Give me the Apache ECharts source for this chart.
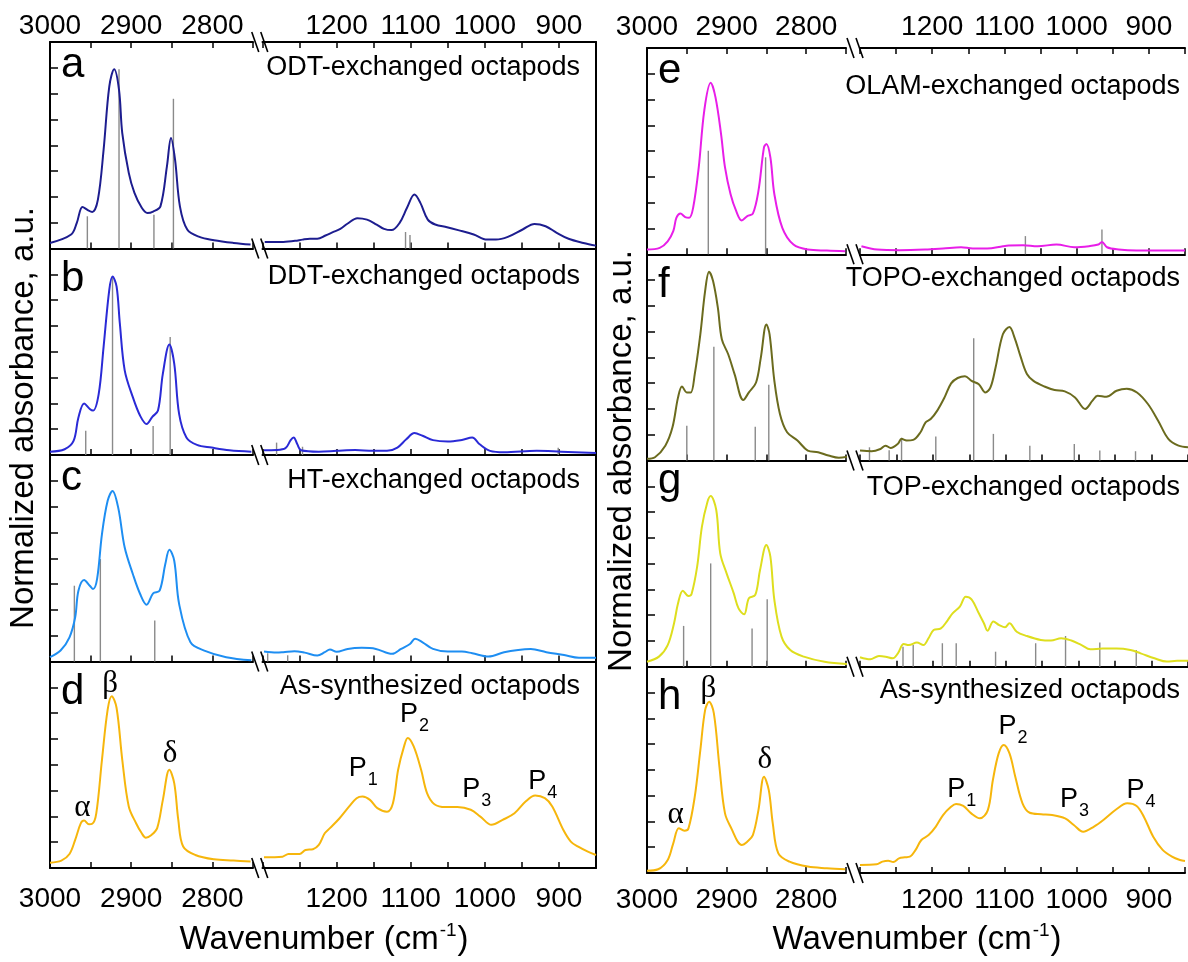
<!DOCTYPE html>
<html>
<head>
<meta charset="utf-8">
<title>FTIR spectra of ligand-exchanged octapods</title>
<script src="https://cdn.jsdelivr.net/npm/echarts@6/dist/echarts.min.js"></script>
<style>
  html, body { margin: 0; padding: 0; background: #fff; }
  #chart { width: 1188px; height: 962px; }
</style>
</head>
<body>
<div id="chart"></div>
<script>
// spectra: [wavenumber (cm-1), normalized absorbance]
// "High" = C-H stretching window (3000-2750), "Low" = fingerprint window (1300-850)

// a - ODT
var odtHigh = [[3000,0.027],[2974,0.068],[2967,0.124],[2960,0.201],[2953,0.185],[2948,0.177],[2941,0.237],[2934,0.478],[2927,0.784],[2921,0.868],[2915,0.768],[2911,0.559],[2903,0.366],[2896,0.269],[2887,0.197],[2880,0.172],[2873,0.179],[2864,0.204],[2856,0.398],[2851,0.535],[2846,0.43],[2840,0.204],[2831,0.092],[2816,0.056],[2798,0.04],[2774,0.027],[2753,0.019]];
var odtLow = [[1297,0.031],[1272,0.032],[1256,0.037],[1246,0.043],[1236,0.047],[1226,0.047],[1215,0.063],[1205,0.079],[1195,0.095],[1185,0.121],[1172,0.147],[1159,0.14],[1146,0.116],[1136,0.095],[1126,0.089],[1115,0.124],[1105,0.197],[1095,0.261],[1087,0.221],[1077,0.14],[1067,0.116],[1051,0.103],[1036,0.089],[1015,0.068],[997,0.043],[985,0.043],[969,0.056],[949,0.092],[933,0.119],[918,0.108],[903,0.076],[887,0.047],[867,0.027],[850,0.014]];
var odtSticks = [[2954,0.156],[2915,0.868],[2872,0.164],[2848,0.725],[1107,0.08],[1101,0.065]];

// b - DDT
var ddtHigh = [[3000,0.016],[2982,0.028],[2971,0.068],[2965,0.182],[2958,0.25],[2951,0.223],[2947,0.215],[2940,0.296],[2934,0.524],[2927,0.8],[2923,0.865],[2918,0.816],[2914,0.637],[2908,0.41],[2898,0.28],[2889,0.19],[2881,0.15],[2874,0.185],[2867,0.215],[2861,0.394],[2853,0.535],[2847,0.442],[2841,0.199],[2832,0.085],[2819,0.049],[2801,0.036],[2779,0.023],[2752,0.016]];
var ddtLow = [[1298,0.023],[1281,0.024],[1269,0.033],[1262,0.072],[1258,0.085],[1253,0.052],[1248,0.023],[1224,0.016],[1200,0.02],[1175,0.024],[1151,0.02],[1132,0.02],[1118,0.036],[1106,0.076],[1095,0.106],[1084,0.093],[1070,0.072],[1050,0.065],[1031,0.073],[1017,0.085],[1007,0.052],[993,0.02],[974,0.013],[930,0.02],[897,0.016],[850,0.01]];
var ddtSticks = [[2956,0.117],[2923,0.865],[2873,0.141],[2852,0.572],[1281,0.06],[1246,0.04],[901,0.035]];

// c - HT
var htHigh = [[3000,0.021],[2987,0.053],[2976,0.117],[2969,0.214],[2965,0.343],[2958,0.395],[2951,0.367],[2947,0.351],[2942,0.4],[2936,0.617],[2929,0.778],[2923,0.826],[2916,0.745],[2908,0.552],[2898,0.424],[2889,0.327],[2881,0.275],[2873,0.33],[2865,0.343],[2858,0.472],[2853,0.541],[2847,0.488],[2841,0.279],[2827,0.093],[2810,0.053],[2783,0.021],[2752,0.006]];
var htLow = [[1298,0.048],[1281,0.043],[1272,0.045],[1257,0.05],[1243,0.043],[1226,0.029],[1216,0.045],[1209,0.058],[1200,0.047],[1185,0.061],[1166,0.066],[1147,0.061],[1125,0.037],[1113,0.061],[1101,0.085],[1094,0.11],[1084,0.093],[1070,0.061],[1050,0.048],[1031,0.048],[1017,0.04],[995,0.024],[974,0.045],[955,0.056],[938,0.06],[917,0.045],[893,0.031],[873,0.018],[850,0.018]];
var htSticks = [[2970,0.367],[2938,0.496],[2871,0.198],[1293,0.04],[1266,0.03]];

// d - as-synthesized (left column)
var asLeftHigh = [[3000,0.026],[2986,0.036],[2976,0.068],[2969,0.136],[2962,0.217],[2958,0.23],[2952,0.212],[2948,0.214],[2943,0.265],[2936,0.524],[2929,0.767],[2924,0.832],[2918,0.775],[2911,0.524],[2903,0.298],[2894,0.217],[2887,0.168],[2882,0.147],[2875,0.16],[2868,0.193],[2861,0.33],[2853,0.476],[2847,0.411],[2842,0.233],[2836,0.104],[2821,0.063],[2798,0.042],[2774,0.036],[2753,0.031]];
var asLeftLow = [[1298,0.052],[1273,0.055],[1265,0.068],[1257,0.068],[1250,0.068],[1242,0.087],[1232,0.091],[1224,0.112],[1216,0.168],[1209,0.193],[1196,0.241],[1183,0.298],[1173,0.338],[1165,0.346],[1155,0.33],[1145,0.29],[1132,0.273],[1124,0.314],[1117,0.476],[1109,0.589],[1104,0.63],[1096,0.589],[1086,0.476],[1078,0.363],[1068,0.309],[1053,0.295],[1037,0.295],[1019,0.282],[1006,0.249],[991,0.209],[976,0.233],[960,0.265],[945,0.322],[932,0.351],[919,0.338],[909,0.298],[894,0.184],[884,0.128],[874,0.103],[861,0.079],[850,0.063]];
var asLeftMarks = [['α',2960,0.29],['β',2926,0.891],['δ',2852,0.552],['P1',1164,0.45],['P2',1095,0.707],['P3',1011,0.344],['P4',922,0.387]];

// e - OLAM
var olamHigh = [[3000,0.023],[2984,0.031],[2974,0.063],[2967,0.112],[2963,0.177],[2958,0.197],[2952,0.18],[2947,0.177],[2942,0.226],[2935,0.421],[2928,0.698],[2920,0.831],[2914,0.762],[2907,0.584],[2902,0.421],[2895,0.291],[2888,0.21],[2881,0.164],[2874,0.185],[2867,0.197],[2860,0.307],[2853,0.519],[2850,0.535],[2845,0.47],[2840,0.291],[2830,0.128],[2816,0.047],[2798,0.023],[2774,0.018],[2751,0.015]];
var olamLow = [[1298,0.039],[1276,0.023],[1245,0.02],[1210,0.023],[1185,0.028],[1160,0.034],[1144,0.028],[1124,0.028],[1102,0.039],[1094,0.042],[1074,0.044],[1054,0.039],[1028,0.047],[1003,0.034],[983,0.039],[970,0.047],[965,0.06],[958,0.034],[942,0.023],[917,0.018],[892,0.018],[850,0.018]];
var olamSticks = [[2923,0.502],[2851,0.47],[1071,0.088],[965,0.12]];

// f - TOPO
var topoHigh = [[3000,0.008],[2990,0.016],[2977,0.072],[2968,0.161],[2961,0.306],[2956,0.359],[2950,0.33],[2945,0.33],[2940,0.419],[2933,0.612],[2927,0.821],[2922,0.915],[2917,0.87],[2911,0.741],[2906,0.588],[2898,0.515],[2890,0.419],[2879,0.293],[2872,0.33],[2863,0.378],[2857,0.499],[2850,0.66],[2846,0.612],[2840,0.386],[2833,0.226],[2824,0.137],[2811,0.097],[2798,0.048],[2785,0.04],[2772,0.024],[2759,0.013],[2748,0.019]];
var topoLow = [[1300,0.048],[1284,0.045],[1272,0.056],[1265,0.072],[1258,0.061],[1248,0.081],[1243,0.105],[1236,0.097],[1227,0.1],[1217,0.137],[1210,0.185],[1203,0.201],[1194,0.242],[1184,0.306],[1175,0.374],[1166,0.4],[1156,0.409],[1147,0.386],[1137,0.37],[1128,0.33],[1121,0.354],[1114,0.451],[1104,0.612],[1095,0.647],[1088,0.596],[1080,0.507],[1071,0.419],[1062,0.386],[1047,0.359],[1033,0.342],[1019,0.335],[1005,0.306],[991,0.25],[981,0.29],[974,0.314],[962,0.309],[948,0.338],[934,0.348],[920,0.33],[905,0.274],[891,0.193],[877,0.105],[863,0.072],[850,0.064]];
var topoSticks = [[2950,0.169],[2916,0.551],[2864,0.164],[2847,0.367],[1287,0.064],[1260,0.05],[1243,0.11],[1196,0.116],[1144,0.593],[1117,0.129],[1067,0.072],[1006,0.08],[971,0.048],[922,0.045]];

// g - TOP
var topHigh = [[3000,0.024],[2985,0.049],[2974,0.105],[2966,0.211],[2961,0.308],[2955,0.369],[2948,0.343],[2944,0.353],[2937,0.485],[2931,0.679],[2924,0.8],[2920,0.828],[2913,0.76],[2908,0.55],[2900,0.453],[2891,0.356],[2885,0.283],[2878,0.254],[2872,0.332],[2864,0.348],[2858,0.469],[2850,0.59],[2845,0.534],[2840,0.324],[2831,0.146],[2820,0.081],[2803,0.049],[2777,0.024],[2748,0.013]];
var topLow = [[1300,0.046],[1286,0.036],[1274,0.052],[1265,0.049],[1255,0.041],[1248,0.065],[1240,0.11],[1233,0.105],[1222,0.117],[1213,0.105],[1206,0.138],[1199,0.178],[1189,0.186],[1180,0.224],[1173,0.259],[1163,0.291],[1155,0.34],[1147,0.327],[1137,0.259],[1130,0.211],[1125,0.175],[1117,0.219],[1109,0.202],[1101,0.191],[1095,0.211],[1085,0.17],[1071,0.149],[1052,0.13],[1038,0.127],[1024,0.138],[1010,0.127],[996,0.105],[984,0.085],[967,0.088],[948,0.088],[929,0.081],[915,0.065],[896,0.041],[879,0.025],[865,0.029],[850,0.029]];
var topSticks = [[2954,0.198],[2920,0.501],[2868,0.186],[2849,0.327],[1241,0.097],[1227,0.105],[1187,0.114],[1168,0.114],[1114,0.073],[1059,0.114],[1018,0.149],[971,0.117],[921,0.081]];

// h - as-synthesized (right column)
var asRightHigh = [[3000,0.011],[2986,0.018],[2974,0.063],[2967,0.144],[2960,0.217],[2953,0.205],[2948,0.215],[2940,0.37],[2933,0.596],[2927,0.79],[2922,0.83],[2916,0.774],[2909,0.515],[2902,0.289],[2893,0.208],[2886,0.152],[2881,0.136],[2874,0.152],[2867,0.184],[2860,0.305],[2853,0.467],[2847,0.402],[2842,0.241],[2835,0.095],[2821,0.055],[2798,0.031],[2774,0.023],[2751,0.018]];
var asRightLow = [[1300,0.039],[1277,0.042],[1269,0.055],[1261,0.06],[1254,0.053],[1246,0.071],[1238,0.076],[1231,0.079],[1223,0.112],[1215,0.16],[1205,0.184],[1195,0.225],[1185,0.281],[1174,0.321],[1167,0.335],[1157,0.325],[1146,0.289],[1134,0.265],[1123,0.305],[1116,0.451],[1108,0.58],[1101,0.621],[1093,0.58],[1085,0.467],[1075,0.338],[1065,0.292],[1049,0.285],[1034,0.281],[1016,0.265],[1004,0.233],[991,0.2],[976,0.225],[963,0.257],[945,0.309],[930,0.338],[917,0.325],[907,0.273],[894,0.176],[881,0.112],[868,0.079],[857,0.063],[850,0.058]];
var asRightMarks = [['α',2964,0.281],['β',2923,0.892],['δ',2852,0.548],['P1',1159,0.37],['P2',1088,0.674],['P3',1003,0.321],['P4',911,0.368]];

var highRange = [2750, 3000];
var lowRange = [850, 1300];

(function () {

    var FONT = 'Liberation Sans';

    // two columns of four stacked panels, each panel split by the axis break
    var cols = [
        { top: 42, rowH: 206.5, hiLeft: 50, hiWidth: 203, loLeft: 262.5, loWidth: 333.5, rightBorder: true,
          topMargin: 2, bottomMargin: 17, titleRight: 580, yTitleX: 24, yTitleY: 418, xTitleX: 324 },
        { top: 48, rowH: 206.25, hiLeft: 647, hiWidth: 199, loLeft: 860, loWidth: 328, rightBorder: false,
          topMargin: 7, bottomMargin: 13, titleRight: 1180, yTitleX: 622, yTitleY: 461, xTitleX: 917 }
    ];

    var panels = [
        { col: 0, row: 0, letter: 'a', name: 'ODT-exchanged octapods', color: '#1d1d8f', high: odtHigh, low: odtLow, sticks: odtSticks, letterDy: 23, nameDy: 26 },
        { col: 0, row: 1, letter: 'b', name: 'DDT-exchanged octapods', color: '#2a2ad6', high: ddtHigh, low: ddtLow, sticks: ddtSticks, letterDy: 31, nameDy: 28 },
        { col: 0, row: 2, letter: 'c', name: 'HT-exchanged octapods', color: '#1e8ef2', high: htHigh, low: htLow, sticks: htSticks, letterDy: 23, nameDy: 26 },
        { col: 0, row: 3, letter: 'd', name: 'As-synthesized octapods', color: '#f6b60c', high: asLeftHigh, low: asLeftLow, sticks: [], marks: asLeftMarks, letterDy: 31, nameDy: 25 },
        { col: 1, row: 0, letter: 'e', name: 'OLAM-exchanged octapods', color: '#e81ee8', high: olamHigh, low: olamLow, sticks: olamSticks, letterDy: 23, nameDy: 39 },
        { col: 1, row: 1, letter: 'f', name: 'TOPO-exchanged octapods', color: '#6b6b1e', high: topoHigh, low: topoLow, sticks: topoSticks, letterDy: 31, nameDy: 24 },
        { col: 1, row: 2, letter: 'g', name: 'TOP-exchanged octapods', color: '#dede1e', high: topHigh, low: topLow, sticks: topSticks, letterDy: 21, nameDy: 27 },
        { col: 1, row: 3, letter: 'h', name: 'As-synthesized octapods', color: '#f6b60c', high: asRightHigh, low: asRightLow, sticks: [], marks: asRightMarks, letterDy: 31, nameDy: 24 }
    ];

    var grids = [], xAxes = [], yAxes = [], series = [], graphics = [];

    function tickText(v) {
        return (v % 100 === 0 && v !== 1300) ? String(v) : '';
    }

    function xAxisOf(gi, range, position, showLabel, margin) {
        return {
            gridIndex: gi, type: 'value', inverse: true, position: position,
            min: range[0], max: range[1], interval: 50,
            axisLine: { show: true, onZero: false, lineStyle: { color: '#000', width: 2 } },
            axisTick: { show: true, inside: true, length: 6, lineStyle: { color: '#000', width: 1.5 } },
            axisLabel: { show: showLabel, formatter: tickText, color: '#000', fontSize: 28, fontFamily: FONT,
                margin: margin, showMinLabel: true, showMaxLabel: true },
            splitLine: { show: false }
        };
    }

    function markText(m) {
        if (m[0].charAt(0) === 'P') {
            return '{p|P}{s|' + m[0].slice(1) + '}';
        }
        return '{g|' + m[0] + '}';
    }

    panels.forEach(function (p) {
        var c = cols[p.col];
        var top = c.top + p.row * c.rowH;
        var segs = [
            { left: c.hiLeft, width: c.hiWidth, range: highRange, data: p.high, side: 'left' },
            { left: c.loLeft, width: c.loWidth, range: lowRange, data: p.low, side: 'right' }
        ];

        segs.forEach(function (s) {
            grids.push({ left: s.left, top: top, width: s.width, height: c.rowH });
            var gi = grids.length - 1;

            xAxes.push(xAxisOf(gi, s.range, 'bottom', p.row === 3, c.bottomMargin));
            var xi = xAxes.length - 1;
            if (p.row === 0) {
                xAxes.push(xAxisOf(gi, s.range, 'top', true, c.topMargin));
            }

            var isLeft = s.side === 'left';
            yAxes.push({
                gridIndex: gi, type: 'value', position: s.side,
                min: 0, max: 1, interval: 0.125,
                axisLine: { show: isLeft || c.rightBorder, lineStyle: { color: '#000', width: 2 } },
                axisTick: { show: isLeft, inside: true, length: 8, lineStyle: { color: '#000', width: 1.5 } },
                axisLabel: { show: false },
                splitLine: { show: false }
            });
            var yi = yAxes.length - 1;

            var sticks = p.sticks.filter(function (d) {
                return d[0] >= s.range[0] && d[0] <= s.range[1];
            });
            if (sticks.length) {
                series.push({
                    type: 'bar', xAxisIndex: xi, yAxisIndex: yi, data: sticks,
                    barWidth: 1.4, itemStyle: { color: '#8a8a8a' }, z: 1, silent: true
                });
            }

            series.push({
                type: 'line', xAxisIndex: xi, yAxisIndex: yi, data: s.data,
                symbol: 'none', smooth: 0.35, clip: true,
                lineStyle: { color: p.color, width: 2 }, z: 2, silent: true
            });

            if (p.marks) {
                var marks = p.marks.filter(function (m) {
                    return m[1] >= s.range[0] && m[1] <= s.range[1];
                }).map(function (m) {
                    return { name: markText(m), value: [m[1], m[2]] };
                });
                series.push({
                    type: 'scatter', xAxisIndex: xi, yAxisIndex: yi, data: marks,
                    symbolSize: 1, itemStyle: { color: 'rgba(0,0,0,0)', opacity: 1 }, z: 3, silent: true,
                    label: {
                        show: true, position: 'inside', color: '#000', opacity: 1, textBorderWidth: 0,
                        formatter: function (d) { return d.name; },
                        rich: {
                            g: { fontFamily: 'Liberation Serif', fontSize: 31, color: '#000' },
                            p: { fontFamily: FONT, fontSize: 27, lineHeight: 27, color: '#000', verticalAlign: 'bottom', padding: [0, 1, 7, 0] },
                            s: { fontFamily: FONT, fontSize: 18, lineHeight: 18, color: '#000', verticalAlign: 'bottom' }
                        }
                    }
                });
            }
        });

        // panel letter and sample name
        graphics.push({
            type: 'text', x: c.hiLeft + 11, y: top + p.letterDy, silent: true,
            style: { text: p.letter, fontSize: 42, fontFamily: FONT, fill: '#000', align: 'left', verticalAlign: 'middle' }
        });
        graphics.push({
            type: 'text', x: c.titleRight, y: top + p.nameDy, silent: true,
            style: { text: p.name, fontSize: 27, fontFamily: FONT, fill: '#000', align: 'right', verticalAlign: 'middle' }
        });
    });

    cols.forEach(function (c) {
        // axis break marks on every horizontal frame line
        var cx = (c.hiLeft + c.hiWidth + c.loLeft) / 2 + 2;
        for (var k = 0; k <= 4; k++) {
            var y = c.top + k * c.rowH;
            [-8, 1].forEach(function (dx) {
                graphics.push({
                    type: 'line', silent: true,
                    shape: { x1: cx + dx, y1: y - 10, x2: cx + dx + 7, y2: y + 10 },
                    style: { stroke: '#000', lineWidth: 1.6 }
                });
            });
        }

        graphics.push({
            type: 'text', x: c.yTitleX, y: c.yTitleY, rotation: Math.PI / 2, silent: true,
            style: { text: 'Normalized absorbance, a.u.', fontSize: 33, fontFamily: FONT, fill: '#000',
                align: 'center', verticalAlign: 'middle' }
        });
        graphics.push({
            type: 'text', x: c.xTitleX, y: 940, silent: true,
            style: {
                text: '{t|Wavenumber (cm}{u|-1}{t|)}', align: 'center', verticalAlign: 'middle', fill: '#000',
                rich: {
                    t: { fontSize: 33, lineHeight: 33, fontFamily: FONT, fill: '#000', verticalAlign: 'bottom' },
                    u: { fontSize: 19, lineHeight: 19, fontFamily: FONT, fill: '#000', verticalAlign: 'bottom', padding: [0, 1, 16, 1] }
                }
            }
        });
    });

    var chart = echarts.init(document.getElementById('chart'));
    chart.setOption({
        animation: false,
        backgroundColor: '#fff',
        grid: grids,
        xAxis: xAxes,
        yAxis: yAxes,
        series: series,
        graphic: graphics
    });
})();
</script>
</body>
</html>
